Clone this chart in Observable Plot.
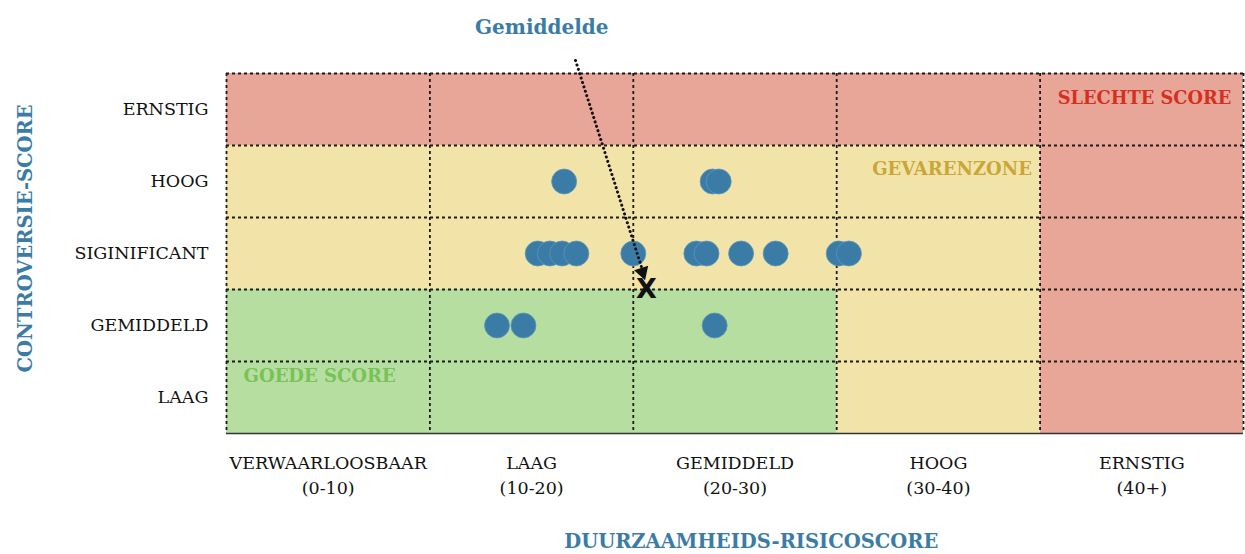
<!DOCTYPE html>
<html>
<head>
<meta charset="utf-8">
<script src="https://cdn.jsdelivr.net/npm/d3@7"></script>
<script src="https://cdn.jsdelivr.net/npm/@observablehq/plot@0.6"></script>
<style>
  html, body { margin: 0; padding: 0; background: #fff; }
  #chart svg { display: block; }
</style>
</head>
<body>
<div id="chart"></div>
<script>
// ---- Data ----
const riskCategories = ["VERWAARLOOSBAAR", "LAAG", "GEMIDDELD", "HOOG", "ERNSTIG"];
const riskRanges = ["(0-10)", "(10-20)", "(20-30)", "(30-40)", "(40+)"];
const riskBreaks = [0, 10, 20, 30, 40, 50];
const controversyLevels = ["LAAG", "GEMIDDELD", "SIGINIFICANT", "HOOG", "ERNSTIG"];

// company risk scores per controversy level
const scoresHoog = [16.6, 23.9, 24.2];
const scoresSignificant = [15.3, 15.9, 16.5, 17.2, 20.0, 23.1, 23.6, 25.3, 27.0, 30.1, 30.6];
const scoresGemiddeld = [13.3, 14.6, 24.0];

// average marker
const averageRisk = 20.65;
const averageControversy = 2.0;

// zones
const zoneNames = ["slecht", "slecht", "gevaar", "gevaar", "goed"];
const zoneX1 = [0, 40, 0, 30, 0];
const zoneX2 = [50, 50, 40, 40, 30];
const zoneY1 = [4, 0, 2, 0, 0];
const zoneY2 = [5, 4, 4, 2, 2];

// ---- Build tables ----
const points = [
  ...scoresHoog.map(x => ({x, level: "HOOG"})),
  ...scoresSignificant.map(x => ({x, level: "SIGINIFICANT"})),
  ...scoresGemiddeld.map(x => ({x, level: "GEMIDDELD"}))
].map(d => ({...d, y: controversyLevels.indexOf(d.level) + 0.5}));

const zones = zoneNames.map((z, i) => ({z, x1: zoneX1[i], x2: zoneX2[i], y1: zoneY1[i], y2: zoneY2[i]}));
const zoneColor = {slecht: "#e8a699", gevaar: "#f2e4a9", goed: "#b6dea0"};

const blue = "#3b7ca6";
const serif = "'DejaVu Serif', serif";

const xLabels = riskCategories.map((c, i) => ({c, r: riskRanges[i], x: (riskBreaks[i] + riskBreaks[i + 1]) / 2}));
const yLabels = controversyLevels.map((c, i) => ({c, y: i + 0.5}));

// annotation arrow (label -> average)
const arrowStart = {x: 17.16, y: 5.18};
const arrowEnd = {x: 20.45, y: 2.27};

const chart = Plot.plot({
  width: 1245,
  height: 554,
  marginLeft: 226,
  marginRight: 2,
  marginTop: 73,
  marginBottom: 121,
  x: {domain: [0, 50], axis: null},
  y: {domain: [0, 5], axis: null},
  style: {fontFamily: serif, background: "#fff", overflow: "visible"},
  marks: [
    Plot.rect(zones, {x1: "x1", x2: "x2", y1: "y1", y2: "y2", fill: d => zoneColor[d.z]}),
    Plot.ruleX(riskBreaks, {stroke: "#1a1a1a", strokeWidth: 1.8, strokeDasharray: "3,3"}),
    Plot.ruleY([1, 2, 3, 4, 5], {stroke: "#1a1a1a", strokeWidth: 1.8, strokeDasharray: "3,3"}),
    Plot.ruleY([0], {stroke: "#333", strokeWidth: 1.5}),
    // y tick labels
    Plot.text(yLabels, {x: 0, y: "y", text: "c", textAnchor: "end", dx: -18, fontSize: 17.5, fill: "#111"}),
    // x tick labels
    Plot.text(xLabels, {x: "x", y: 0, text: "c", dy: 30, fontSize: 17.5, fill: "#111"}),
    Plot.text(xLabels, {x: "x", y: 0, text: "r", dy: 55, fontSize: 17.5, fill: "#111"}),
    // axis titles
    Plot.text(["CONTROVERSIE-SCORE"], {x: -9.88, y: 2.71, rotate: -90, fontSize: 19.5, fontWeight: "bold", fill: blue}),
    Plot.text(["DUURZAAMHEIDS-RISICOSCORE"], {x: 25.8, y: -1.5, fontSize: 19.5, fontWeight: "bold", fill: blue}),
    // zone labels
    Plot.text(["SLECHTE SCORE"], {x: 49.4, y: 4.65, textAnchor: "end", fontSize: 17.8, fontWeight: "bold", fill: "#d4301f"}),
    Plot.text(["GEVARENZONE"], {x: 39.6, y: 3.67, textAnchor: "end", fontSize: 18, fontWeight: "bold", fill: "#c9a63a"}),
    Plot.text(["GOEDE SCORE"], {x: 0.84, y: 0.79, textAnchor: "start", fontSize: 18, fontWeight: "bold", fill: "#78c257"}),
    // points
    Plot.dot(points, {x: "x", y: "y", r: 12.5, fill: blue, stroke: "#5c97bb", strokeWidth: 0.8}),
    // average annotation
    Plot.link([{x1: arrowStart.x, y1: arrowStart.y, x2: arrowEnd.x, y2: arrowEnd.y}], {x1: "x1", y1: "y1", x2: "x2", y2: "y2", stroke: "#111", strokeWidth: 3, strokeDasharray: "0.1,4.5", strokeLinecap: "round"}),
    Plot.dot([arrowEnd], {x: "x", y: "y", symbol: "triangle", r: 5.5, rotate: 162, fill: "#111", dy: 2}),
    Plot.text(["Gemiddelde"], {x: 15.5, y: 5.64, fontSize: 20, fontWeight: "bold", fill: blue}),
    Plot.text(["X"], {x: averageRisk, y: averageControversy, fontSize: 27, fontWeight: "bold", fontFamily: "'DejaVu Sans', sans-serif", fill: "#111"})
  ]
});
document.getElementById("chart").append(chart);
</script>
</body>
</html>
